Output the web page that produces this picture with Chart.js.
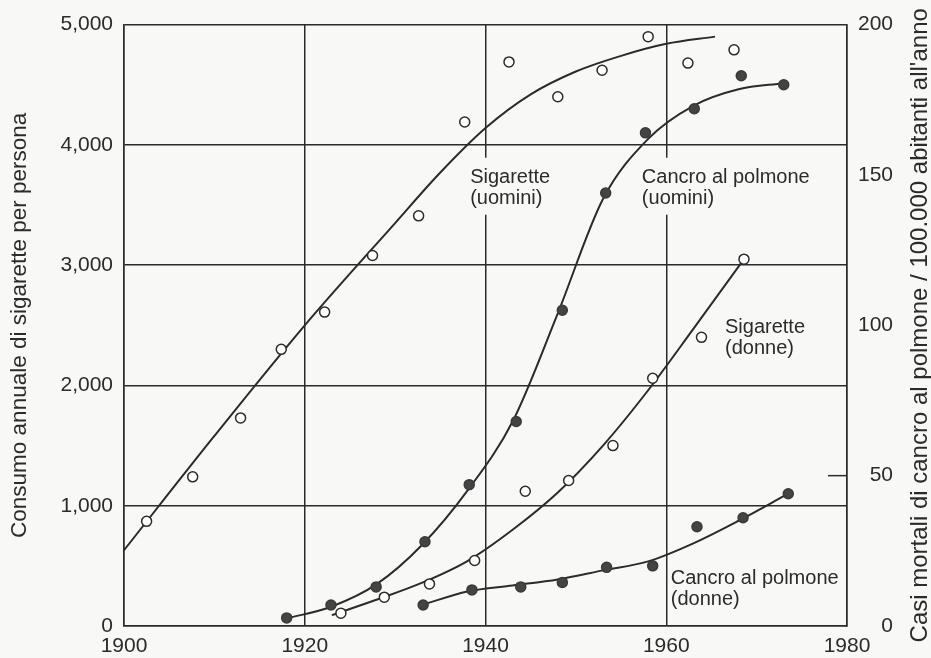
<!DOCTYPE html>
<html>
<head>
<meta charset="utf-8">
<script src="https://cdn.jsdelivr.net/npm/chart.js@4.4.0/dist/chart.umd.min.js"></script>
<style>
  html, body { margin: 0; padding: 0; background: #f8f8f6; }
  #wrap { width: 931px; height: 658px; position: relative; }
</style>
</head>
<body>
<div id="wrap"><canvas id="fumo"></canvas></div>
<script>
// Sigarette (uomini) - punti e curva, asse sinistro
const cigMenYears = [1902.5, 1907.6, 1912.9, 1917.4, 1922.2, 1927.5, 1932.6, 1937.7, 1942.6, 1948.0, 1952.9, 1958.0, 1962.4, 1967.5];
const cigMenValues = [870, 1240, 1730, 2300, 2610, 3080, 3410, 4190, 4690, 4400, 4620, 4900, 4680, 4790];
const cigMenCurveYears = [1900, 1910, 1920, 1930, 1935, 1940, 1945, 1950, 1955, 1960, 1965.4];
const cigMenCurveValues = [630, 1580, 2500, 3350, 3770, 4140, 4420, 4610, 4740, 4840, 4900];

// Sigarette (donne)
const cigWomenYears = [1924.0, 1928.8, 1933.8, 1938.8, 1944.4, 1949.2, 1954.1, 1958.5, 1963.9, 1968.6];
const cigWomenValues = [107, 240, 350, 545, 1120, 1210, 1500, 2060, 2400, 3050];
const cigWomenCurveYears = [1923, 1928, 1933, 1938, 1943, 1948, 1953, 1958, 1963, 1968.6];
const cigWomenCurveValues = [90, 220, 360, 540, 800, 1110, 1500, 1960, 2470, 3050];

// Cancro al polmone (uomini) - asse destro
const cancerMenYears = [1918.0, 1922.9, 1927.9, 1933.3, 1938.2, 1943.4, 1948.5, 1953.3, 1957.7, 1963.1, 1968.3, 1973.0];
const cancerMenValues = [2.7, 7, 13, 28, 47, 68, 105, 144, 164, 172, 183, 180];
const cancerMenCurveYears = [1918, 1923, 1928, 1933, 1938, 1943, 1948, 1953, 1958, 1963, 1968, 1973];
const cancerMenCurveValues = [2.5, 6.5, 14, 27, 45, 68, 104, 142, 162, 173, 178.5, 180.5];

// Cancro al polmone (donne)
const cancerWomenYears = [1933.1, 1938.5, 1943.9, 1948.5, 1953.4, 1958.5, 1963.4, 1968.5, 1973.5];
const cancerWomenValues = [7, 12, 13, 14.5, 19.5, 20, 33, 36, 44];
const cancerWomenCurveYears = [1933, 1938, 1943, 1948, 1953, 1958, 1963, 1968, 1973.5];
const cancerWomenCurveValues = [7, 11.5, 13.5, 15.5, 18.5, 21.5, 27.5, 35, 44];

const yearTicks = [1900, 1920, 1940, 1960, 1980];
const leftTicks = [0, 1000, 2000, 3000, 4000, 5000];
const rightTicks = [0, 50, 100, 150, 200];

const INK = '#2b2b2b';
const BG = '#f8f8f6';
const FONT = "'Liberation Sans', Arial, Helvetica, sans-serif";

const pts = (xs, ys) => xs.map((x, i) => ({ x: x, y: ys[i] }));

function curve(xs, ys, axis) {
    return {
        data: pts(xs, ys),
        yAxisID: axis,
        borderColor: INK,
        borderWidth: 2,
        pointRadius: 0,
        cubicInterpolationMode: 'monotone',
        fill: false
    };
}

function dots(xs, ys, axis, filled) {
    return {
        data: pts(xs, ys),
        yAxisID: axis,
        showLine: false,
        pointRadius: 5,
        pointBorderWidth: 1.5,
        pointBorderColor: filled ? '#3a3a3a' : INK,
        pointBackgroundColor: filled ? '#444' : '#fff'
    };
}

// etichette dentro il grafico (anno, valore asse sinistro)
const notes = [
    { lines: ['Sigarette', '(uomini)'], year: 1938.3, val: 3727 },
    { lines: ['Cancro al polmone', '(uomini)'], year: 1957.3, val: 3727 },
    { lines: ['Sigarette', '(donne)'], year: 1966.5, val: 2480 },
    { lines: ['Cancro al polmone', '(donne)'], year: 1960.5, val: 397 }
];

const overlay = {
    id: 'overlay',
    beforeDatasetsDraw(chart) {
        const { ctx } = chart;
        const sx = chart.scales.x, sy = chart.scales.y, sr = chart.scales.y2;
        ctx.save();
        // tacca sull'asse destro a 50
        const t = sr.getPixelForValue(50);
        ctx.strokeStyle = INK;
        ctx.lineWidth = 1.5;
        ctx.beginPath();
        ctx.moveTo(chart.chartArea.right - 19, t);
        ctx.lineTo(chart.chartArea.right, t);
        ctx.stroke();

        ctx.font = '20px ' + FONT;
        ctx.textBaseline = 'middle';
        ctx.textAlign = 'left';
        notes.forEach(n => {
            const x = sx.getPixelForValue(n.year);
            const y = sy.getPixelForValue(n.val);
            const w = Math.max(...n.lines.map(l => ctx.measureText(l).width));
            ctx.fillStyle = BG;
            ctx.fillRect(x - 2, y - 20, w + 6, 21 + 36);
            ctx.fillStyle = INK;
            n.lines.forEach((l, i) => ctx.fillText(l, x, y + i * 21));
        });
        ctx.restore();
    },
    afterDraw(chart) {
        const { ctx, chartArea } = chart;
        ctx.save();
        ctx.translate(920, (chartArea.top + chartArea.bottom) / 2);
        ctx.rotate(-Math.PI / 2);
        ctx.font = '24px ' + FONT;
        ctx.fillStyle = INK;
        ctx.textAlign = 'center';
        ctx.textBaseline = 'middle';
        ctx.fillText("Casi mortali di cancro al polmone / 100.000 abitanti all'anno", 0, 0);
        ctx.restore();
    }
};

const ctx = document.getElementById('fumo').getContext('2d');

new Chart(ctx, {
    type: 'line',
    data: {
        datasets: [
            dots(cigMenYears, cigMenValues, 'y', false),
            dots(cigWomenYears, cigWomenValues, 'y', false),
            dots(cancerMenYears, cancerMenValues, 'y2', true),
            dots(cancerWomenYears, cancerWomenValues, 'y2', true),
            curve(cigMenCurveYears, cigMenCurveValues, 'y'),
            curve(cigWomenCurveYears, cigWomenCurveValues, 'y'),
            curve(cancerMenCurveYears, cancerMenCurveValues, 'y2'),
            curve(cancerWomenCurveYears, cancerWomenCurveValues, 'y2')
        ]
    },
    options: {
        responsive: true,
        maintainAspectRatio: false,
        animation: false,
        layout: { padding: { top: 22, left: 0, right: 38, bottom: 0 } },
        plugins: {
            legend: { display: false },
            tooltip: { enabled: false }
        },
        scales: {
            x: {
                type: 'linear',
                min: 1900,
                max: 1980,
                afterBuildTicks: s => { s.ticks = yearTicks.map(v => ({ value: v })); },
                afterFit: s => { s.height = 32; },
                ticks: {
                    color: INK,
                    font: { family: FONT, size: 21 },
                    padding: 8,
                    maxRotation: 0,
                    callback: v => String(v)
                },
                grid: { color: INK, lineWidth: 1.5, drawTicks: false },
                border: { color: INK, width: 1.5 }
            },
            y: {
                position: 'left',
                min: 0,
                max: 5000,
                afterBuildTicks: s => { s.ticks = leftTicks.map(v => ({ value: v })); },
                afterFit: s => { s.width = 124; },
                ticks: {
                    color: INK,
                    font: { family: FONT, size: 21 },
                    padding: 11,
                    callback: v => v.toLocaleString('en-US')
                },
                grid: { color: INK, lineWidth: 1.5, drawTicks: false },
                border: { color: INK, width: 1.5 },
                title: {
                    display: true,
                    text: 'Consumo annuale di sigarette per persona',
                    color: INK,
                    font: { family: FONT, size: 22.5 },
                    padding: { top: 6, bottom: 0 }
                }
            },
            y2: {
                position: 'right',
                min: 0,
                max: 200,
                afterBuildTicks: s => { s.ticks = rightTicks.map(v => ({ value: v })); },
                afterFit: s => { s.width = 46; },
                ticks: {
                    color: INK,
                    font: { family: FONT, size: 21 },
                    padding: 12,
                    crossAlign: 'far'
                },
                grid: { drawOnChartArea: false, drawTicks: false },
                border: { color: INK, width: 1.5 }
            }
        }
    },
    plugins: [overlay]
});
</script>
</body>
</html>
